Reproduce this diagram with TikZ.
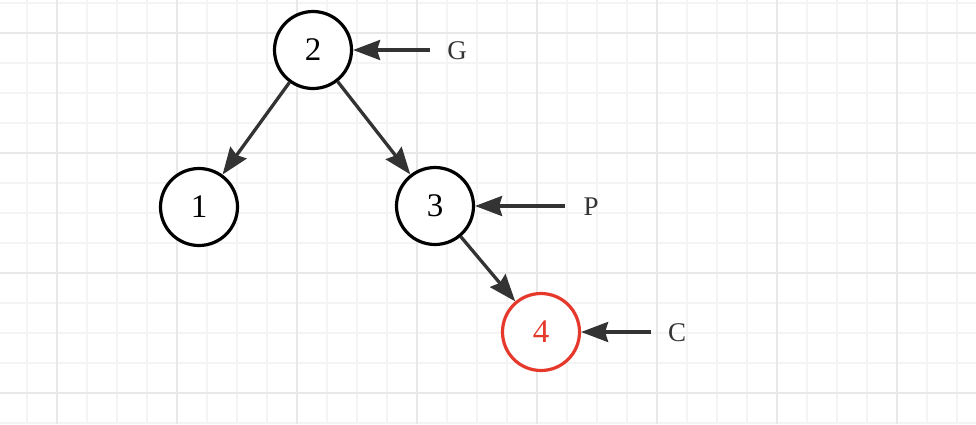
\documentclass[tikz,border=0pt]{standalone}
\usepackage{fontspec}
\setmainfont{Liberation Serif}
\usepackage{tikz}
\usetikzlibrary{arrows.meta}
\definecolor{minorline}{HTML}{F4F4F4}
\definecolor{majorline}{HTML}{E8E8E8}
\definecolor{edgegray}{HTML}{333333}
\definecolor{newred}{HTML}{E5392C}

\begin{document}
\begin{tikzpicture}[x=1pt, y=-1pt,
  treenode/.style={circle, draw=black, line width=3.2pt, fill=white,
                   minimum size=77pt, inner sep=0pt,
                   font=\fontsize{33}{38}\selectfont},
  rednode/.style={treenode, draw=newred, text=newred},
  tag/.style={text=edgegray, inner sep=0pt, font=\fontsize{27}{32}\selectfont},
  arrow/.style={-{Stealth[length=27pt, width=20pt, inset=3pt]}, line width=3.3pt,
                draw=edgegray, fill=edgegray},
]
\useasboundingbox (0,0) rectangle (976,424);
% background grid
\foreach \x in {27,57,...,987} \draw[minorline, line width=1.5pt] (\x,0) -- (\x,424);
\foreach \y in {3,33,...,423} \draw[minorline, line width=1.5pt] (0,\y) -- (976,\y);
\foreach \x in {57,177,...,987} \draw[majorline, line width=1.5pt] (\x,0) -- (\x,424);
\foreach \y in {33,153,...,423} \draw[majorline, line width=1.5pt] (0,\y) -- (976,\y);

\node[treenode] (n2) at (313, 50)  {2};
\node[treenode] (n1) at (199, 207) {1};
\node[treenode] (n3) at (435, 206) {3};
\node[rednode]  (n4) at (541, 332) {4};

\node[tag] (g) at (457, 51)  {G};
\node[tag] (p) at (591, 207) {P};
\node[tag] (c) at (677, 333) {C};
\coordinate (gfrom) at (430, 50);
\coordinate (pfrom) at (565, 206);
\coordinate (cfrom) at (651, 332);

\draw[arrow] (n2) -- (n1);
\draw[arrow] (n2) -- (n3);
\draw[arrow] (n3) -- (n4);
\draw[arrow] (gfrom) -- (n2);
\draw[arrow] (pfrom) -- (n3);
\draw[arrow] (cfrom) -- (n4);
\end{tikzpicture}
\end{document}
